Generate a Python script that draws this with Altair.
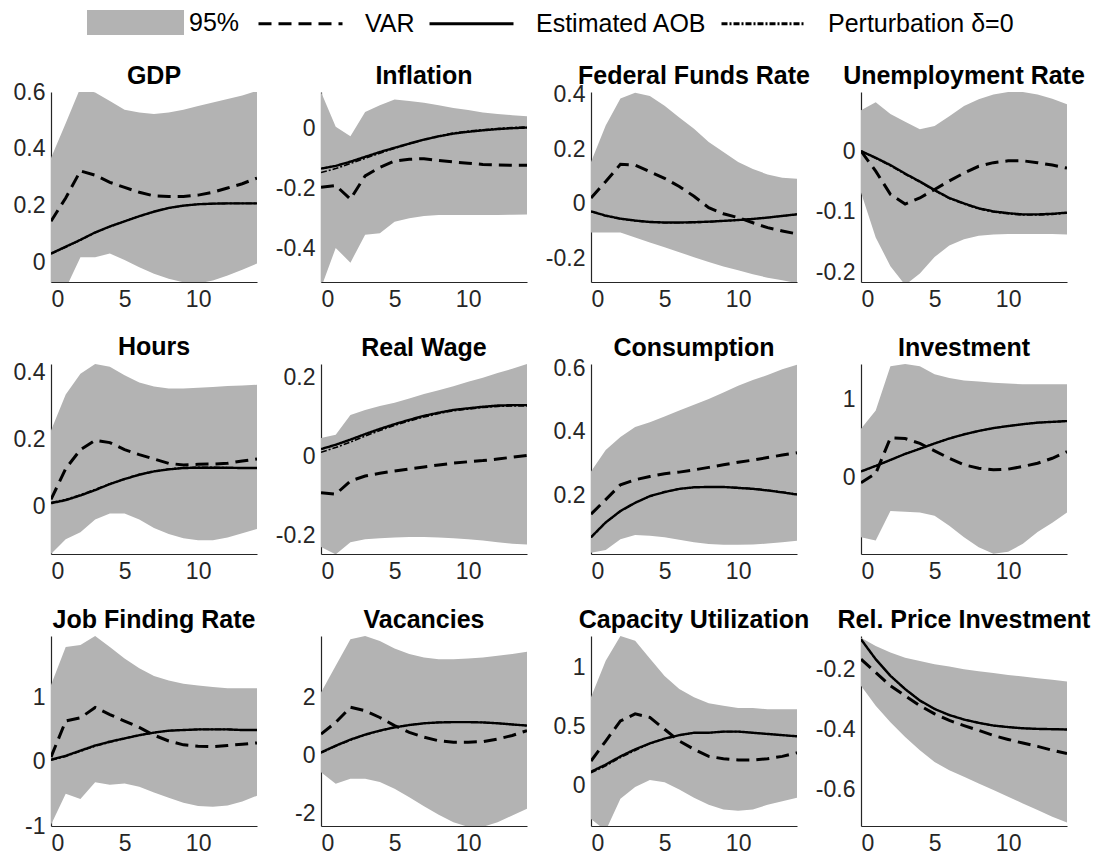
import altair as alt
import pandas as pd

X = list(range(15))
SERIES = ["VAR", "Estimated AOB", "Perturbation δ=0"]

# ---- GDP
GDP_LO = [-0.15, -0.09, 0.02, 0.02, 0.033, 0.01, -0.015, -0.038, -0.056, -0.068, -0.072, -0.062, -0.044, -0.024, -0.002]
GDP_HI = [0.368, 0.49, 0.615, 0.598, 0.568, 0.538, 0.528, 0.523, 0.528, 0.538, 0.551, 0.563, 0.575, 0.588, 0.604]
GDP_VAR = [0.146, 0.228, 0.323, 0.308, 0.283, 0.265, 0.248, 0.235, 0.233, 0.233, 0.238, 0.248, 0.263, 0.278, 0.298]
GDP_AOB = [0.033, 0.057, 0.081, 0.107, 0.128, 0.146, 0.164, 0.18, 0.193, 0.201, 0.206, 0.208, 0.209, 0.209, 0.209]
GDP_PERT = [0.031, 0.055, 0.08, 0.106, 0.127, 0.146, 0.164, 0.18, 0.193, 0.201, 0.206, 0.208, 0.209, 0.209, 0.209]

# ---- Inflation
INF_LO = [-0.53, -0.397, -0.446, -0.353, -0.348, -0.31, -0.299, -0.291, -0.288, -0.288, -0.288, -0.288, -0.288, -0.287, -0.286]
INF_HI = [0.12, 0.005, -0.027, 0.054, 0.076, 0.095, 0.09, 0.084, 0.076, 0.067, 0.06, 0.052, 0.047, 0.043, 0.04]
INF_VAR = [-0.196, -0.19, -0.235, -0.158, -0.13, -0.109, -0.103, -0.101, -0.107, -0.112, -0.116, -0.12, -0.122, -0.123, -0.123]
INF_AOB = [-0.134, -0.125, -0.111, -0.095, -0.079, -0.065, -0.051, -0.038, -0.027, -0.018, -0.012, -0.007, -0.003, 0.0, 0.002]
INF_PERT = [-0.147, -0.134, -0.117, -0.1, -0.083, -0.067, -0.052, -0.038, -0.026, -0.016, -0.01, -0.005, -0.001, 0.002, 0.004]

# ---- Federal Funds Rate
FFR_LO = [-0.105, -0.105, -0.105, -0.123, -0.141, -0.159, -0.177, -0.195, -0.213, -0.229, -0.243, -0.258, -0.27, -0.28, -0.29]
FFR_HI = [0.154, 0.287, 0.386, 0.407, 0.395, 0.36, 0.317, 0.275, 0.227, 0.19, 0.154, 0.128, 0.108, 0.096, 0.092]
FFR_VAR = [0.022, 0.082, 0.145, 0.142, 0.118, 0.094, 0.064, 0.028, -0.014, -0.036, -0.05, -0.069, -0.087, -0.099, -0.11]
FFR_AOB = [-0.027, -0.043, -0.054, -0.061, -0.066, -0.068, -0.068, -0.067, -0.065, -0.062, -0.059, -0.055, -0.05, -0.044, -0.038]
FFR_PERT = [-0.028, -0.044, -0.055, -0.062, -0.067, -0.069, -0.069, -0.068, -0.066, -0.063, -0.059, -0.055, -0.05, -0.044, -0.038]

# ---- Unemployment Rate
UNR_LO = [-0.068, -0.142, -0.189, -0.22, -0.201, -0.174, -0.155, -0.145, -0.139, -0.137, -0.136, -0.136, -0.136, -0.136, -0.137]
UNR_HI = [0.067, 0.08, 0.061, 0.048, 0.036, 0.041, 0.057, 0.074, 0.085, 0.093, 0.097, 0.097, 0.093, 0.086, 0.077]
UNR_VAR = [0.0, -0.033, -0.071, -0.087, -0.077, -0.063, -0.049, -0.036, -0.025, -0.019, -0.016, -0.016, -0.019, -0.023, -0.028]
UNR_AOB = [0.0, -0.011, -0.023, -0.037, -0.05, -0.064, -0.077, -0.086, -0.094, -0.099, -0.102, -0.104, -0.104, -0.103, -0.101]
UNR_PERT = [0.0, -0.012, -0.024, -0.038, -0.051, -0.065, -0.078, -0.087, -0.095, -0.1, -0.103, -0.105, -0.105, -0.104, -0.102]

# ---- Hours
HRS_LO = [-0.142, -0.098, -0.077, -0.039, -0.021, -0.021, -0.039, -0.064, -0.082, -0.095, -0.101, -0.101, -0.093, -0.08, -0.067]
HRS_HI = [0.227, 0.335, 0.397, 0.426, 0.418, 0.392, 0.371, 0.359, 0.353, 0.353, 0.355, 0.357, 0.36, 0.362, 0.364]
HRS_VAR = [0.021, 0.113, 0.17, 0.198, 0.191, 0.17, 0.155, 0.142, 0.129, 0.124, 0.126, 0.127, 0.129, 0.136, 0.142]
HRS_AOB = [0.01, 0.019, 0.033, 0.049, 0.067, 0.082, 0.095, 0.105, 0.111, 0.115, 0.116, 0.116, 0.116, 0.115, 0.115]
HRS_PERT = [0.012, 0.021, 0.035, 0.051, 0.068, 0.083, 0.096, 0.106, 0.112, 0.116, 0.117, 0.117, 0.116, 0.115, 0.115]

# ---- Real Wage
RW_LO = [-0.229, -0.248, -0.217, -0.21, -0.207, -0.205, -0.204, -0.204, -0.205, -0.207, -0.21, -0.213, -0.217, -0.221, -0.223]
RW_HI = [0.046, 0.054, 0.104, 0.117, 0.127, 0.135, 0.146, 0.157, 0.167, 0.177, 0.188, 0.198, 0.21, 0.221, 0.233]
RW_VAR = [-0.092, -0.096, -0.0625, -0.05, -0.043, -0.0375, -0.032, -0.027, -0.022, -0.0175, -0.014, -0.011, -0.007, -0.0025, 0.002]
RW_AOB = [0.018, 0.029, 0.042, 0.056, 0.069, 0.081, 0.092, 0.102, 0.11, 0.117, 0.121, 0.125, 0.128, 0.129, 0.129]
RW_PERT = [0.01, 0.022, 0.036, 0.051, 0.065, 0.078, 0.089, 0.099, 0.108, 0.115, 0.119, 0.123, 0.126, 0.127, 0.127]

# ---- Consumption
CON_LO = [0.018, 0.027, 0.061, 0.074, 0.072, 0.067, 0.059, 0.051, 0.046, 0.043, 0.043, 0.044, 0.047, 0.051, 0.056]
CON_HI = [0.275, 0.343, 0.384, 0.416, 0.431, 0.449, 0.468, 0.486, 0.504, 0.525, 0.546, 0.564, 0.58, 0.598, 0.613]
CON_VAR = [0.14, 0.186, 0.233, 0.249, 0.259, 0.268, 0.273, 0.28, 0.288, 0.296, 0.304, 0.311, 0.319, 0.327, 0.334]
CON_AOB = [0.067, 0.114, 0.15, 0.176, 0.197, 0.21, 0.22, 0.225, 0.226, 0.226, 0.223, 0.22, 0.215, 0.209, 0.202]
CON_PERT = [0.066, 0.113, 0.149, 0.176, 0.197, 0.21, 0.22, 0.225, 0.226, 0.226, 0.224, 0.221, 0.216, 0.21, 0.203]

# ---- Investment
INV_LO = [-0.766, -0.808, -0.43, -0.44, -0.45, -0.49, -0.62, -0.766, -0.893, -0.977, -0.95, -0.85, -0.7, -0.58, -0.45]
INV_HI = [0.623, 0.855, 1.42, 1.45, 1.42, 1.32, 1.27, 1.24, 1.225, 1.21, 1.2, 1.19, 1.19, 1.19, 1.19]
INV_VAR = [-0.07, 0.05, 0.505, 0.497, 0.434, 0.34, 0.244, 0.16, 0.118, 0.097, 0.105, 0.139, 0.181, 0.244, 0.328]
INV_AOB = [0.076, 0.147, 0.223, 0.3, 0.366, 0.434, 0.497, 0.55, 0.594, 0.63, 0.657, 0.68, 0.7, 0.71, 0.72]
INV_PERT = [0.074, 0.145, 0.222, 0.299, 0.366, 0.434, 0.497, 0.55, 0.594, 0.63, 0.657, 0.68, 0.7, 0.71, 0.72]

# ---- Job Finding Rate
JFR_LO = [-0.98, -0.5, -0.58, -0.32, -0.36, -0.34, -0.39, -0.48, -0.56, -0.64, -0.69, -0.7, -0.68, -0.62, -0.53]
JFR_HI = [1.19, 1.78, 1.81, 1.95, 1.78, 1.6, 1.45, 1.33, 1.26, 1.21, 1.18, 1.16, 1.14, 1.14, 1.14]
JFR_VAR = [0.07, 0.63, 0.68, 0.84, 0.73, 0.63, 0.53, 0.41, 0.32, 0.26, 0.24, 0.23, 0.25, 0.27, 0.29]
JFR_AOB = [0.03, 0.09, 0.17, 0.25, 0.31, 0.36, 0.41, 0.45, 0.48, 0.49, 0.5, 0.5, 0.5, 0.49, 0.49]
JFR_PERT = [0.02, 0.08, 0.16, 0.24, 0.3, 0.36, 0.41, 0.45, 0.48, 0.49, 0.5, 0.5, 0.5, 0.49, 0.49]

# ---- Vacancies
VAC_LO = [-0.57, -0.97, -0.8, -0.8, -0.91, -1.14, -1.43, -1.74, -2.03, -2.29, -2.45, -2.45, -2.29, -2.06, -1.83]
VAC_HI = [2.17, 3.09, 4.0, 4.11, 3.94, 3.68, 3.49, 3.37, 3.31, 3.31, 3.34, 3.37, 3.43, 3.49, 3.57]
VAC_VAR = [0.74, 1.14, 1.66, 1.54, 1.31, 1.03, 0.8, 0.63, 0.51, 0.46, 0.46, 0.48, 0.57, 0.69, 0.86]
VAC_AOB = [0.11, 0.34, 0.55, 0.72, 0.86, 0.97, 1.05, 1.11, 1.14, 1.15, 1.15, 1.14, 1.11, 1.07, 1.03]
VAC_PERT = [0.09, 0.32, 0.53, 0.71, 0.85, 0.97, 1.05, 1.11, 1.14, 1.15, 1.15, 1.14, 1.11, 1.07, 1.03]

# ---- Capacity Utilization
CU_LO = [-0.28, -0.38, -0.11, -0.01, 0.05, 0.03, -0.03, -0.1, -0.16, -0.2, -0.21, -0.2, -0.16, -0.13, -0.1]
CU_HI = [0.75, 1.06, 1.27, 1.23, 1.08, 0.93, 0.82, 0.75, 0.7, 0.68, 0.66, 0.66, 0.65, 0.65, 0.65]
CU_VAR = [0.21, 0.38, 0.55, 0.61, 0.58, 0.48, 0.38, 0.31, 0.25, 0.23, 0.22, 0.22, 0.23, 0.25, 0.28]
CU_AOB = [0.12, 0.18, 0.25, 0.31, 0.36, 0.4, 0.43, 0.45, 0.45, 0.46, 0.46, 0.45, 0.44, 0.43, 0.42]
CU_PERT = [0.11, 0.17, 0.24, 0.3, 0.36, 0.4, 0.43, 0.45, 0.45, 0.46, 0.46, 0.45, 0.44, 0.43, 0.42]

# ---- Rel. Price Investment
RPI_LO = [-0.255, -0.321, -0.376, -0.425, -0.469, -0.508, -0.535, -0.557, -0.579, -0.601, -0.623, -0.645, -0.667, -0.689, -0.708]
RPI_HI = [-0.096, -0.123, -0.145, -0.162, -0.173, -0.184, -0.191, -0.2, -0.207, -0.213, -0.219, -0.224, -0.23, -0.235, -0.241]
RPI_VAR = [-0.167, -0.211, -0.255, -0.288, -0.321, -0.348, -0.37, -0.387, -0.403, -0.42, -0.433, -0.445, -0.456, -0.469, -0.48]
RPI_AOB = [-0.101, -0.167, -0.222, -0.266, -0.304, -0.332, -0.352, -0.367, -0.378, -0.387, -0.392, -0.396, -0.398, -0.399, -0.4]
RPI_PERT = [-0.101, -0.167, -0.222, -0.266, -0.304, -0.332, -0.352, -0.367, -0.378, -0.387, -0.392, -0.396, -0.398, -0.399, -0.4]

PANELS = [
    ("GDP", GDP_LO, GDP_HI, GDP_VAR, GDP_AOB, GDP_PERT, [-0.067, 0.6], [0, 0.2, 0.4, 0.6]),
    ("Inflation", INF_LO, INF_HI, INF_VAR, INF_AOB, INF_PERT, [-0.51, 0.12], [-0.4, -0.2, 0]),
    ("Federal Funds Rate", FFR_LO, FFR_HI, FFR_VAR, FFR_AOB, FFR_PERT, [-0.286, 0.41], [-0.2, 0, 0.2, 0.4]),
    ("Unemployment Rate", UNR_LO, UNR_HI, UNR_VAR, UNR_AOB, UNR_PERT, [-0.215, 0.097], [-0.2, -0.1, 0]),
    ("Hours", HRS_LO, HRS_HI, HRS_VAR, HRS_AOB, HRS_PERT, [-0.142, 0.426], [0, 0.2, 0.4]),
    ("Real Wage", RW_LO, RW_HI, RW_VAR, RW_AOB, RW_PERT, [-0.247, 0.233], [-0.2, 0, 0.2]),
    ("Consumption", CON_LO, CON_HI, CON_VAR, CON_AOB, CON_PERT, [0.014, 0.615], [0.2, 0.4, 0.6]),
    ("Investment", INV_LO, INV_HI, INV_VAR, INV_AOB, INV_PERT, [-0.98, 1.45], [-1, 0, 1]),
    ("Job Finding Rate", JFR_LO, JFR_HI, JFR_VAR, JFR_AOB, JFR_PERT, [-1.0, 1.95], [-1, 0, 1]),
    ("Vacancies", VAC_LO, VAC_HI, VAC_VAR, VAC_AOB, VAC_PERT, [-2.42, 4.11], [-2, 0, 2]),
    ("Capacity Utilization", CU_LO, CU_HI, CU_VAR, CU_AOB, CU_PERT, [-0.34, 1.27], [0, 0.5, 1]),
    ("Rel. Price Investment", RPI_LO, RPI_HI, RPI_VAR, RPI_AOB, RPI_PERT, [-0.72, -0.09], [-0.6, -0.4, -0.2]),
]

FONT = "Liberation Sans"
BAND_COLOR = "#b3b3b3"
DASHES = [[13, 7], [1, 0], [6, 2, 2, 2]]
WIDTHS = [3.0, 2.4, 1.6]
PW, PH = 206, 190

fill_legend = alt.Legend(
    title=None, orient="none", legendX=72, legendY=-82, direction="horizontal",
    symbolType="M-4,-1.03H4V1.03H-4Z", symbolSize=588, symbolStrokeWidth=0,
    symbolOpacity=1, labelFontSize=25, labelFont=FONT, labelColor="black", labelOffset=41,
    labelLimit=300,
)
dash_legend = alt.Legend(
    title=None, orient="none", legendX=234, legendY=-84, direction="horizontal",
    symbolType="M-3,0H3", symbolSize=784, symbolStrokeWidth=2.8, symbolStrokeColor="black",
    symbolFillColor="transparent",
    labelFontSize=25, labelFont=FONT, labelColor="black", labelOffset=49, columnPadding=8,
    labelLimit=300,
)

def panel(title, lo, hi, var, aob, pert, dom, ticks):
    xenc = alt.X("x:Q", scale=alt.Scale(domain=[0, 14], nice=False),
                 axis=alt.Axis(values=[0, 5, 10], title=None))
    yscale = alt.Scale(domain=dom, nice=False, zero=False)
    yaxis = alt.Axis(values=ticks, title=None, labelExpr="datum.value + ''")
    band = pd.DataFrame({"x": X, "lo": lo, "hi": hi, "band": ["95%"] * len(X)})
    layers = [
        alt.Chart(band).mark_area(clip=True, opacity=1, interpolate="linear").encode(
            x=xenc,
            y=alt.Y("lo:Q", scale=yscale, axis=yaxis),
            y2="hi:Q",
            fill=alt.Fill("band:N", scale=alt.Scale(domain=["95%"], range=[BAND_COLOR]), legend=fill_legend),
        )
    ]
    for name, vals, w in zip(SERIES, [var, aob, pert], WIDTHS):
        df = pd.DataFrame({"x": X, "v": vals, "series": [name] * len(X)})
        layers.append(
            alt.Chart(df).mark_line(clip=True, color="black", strokeWidth=w).encode(
                x=xenc,
                y=alt.Y("v:Q", scale=yscale, axis=yaxis),
                strokeDash=alt.StrokeDash("series:N", scale=alt.Scale(domain=SERIES, range=DASHES),
                                          legend=dash_legend),
            )
        )
    # keep every title at the same height even when the top tick label pokes above the plot
    top_gap = (dom[1] - max(ticks)) / (dom[1] - dom[0]) * PH
    push = max(0.0, 10.5 - top_gap)
    return alt.layer(*layers).properties(
        width=PW, height=PH,
        title=alt.TitleParams(title, fontSize=25, font=FONT, fontWeight="bold", color="black",
                              offset=3, anchor="middle", dy=round(push, 1)),
    )

charts = [panel(*p) for p in PANELS]

chart = alt.concat(
    *charts, columns=4, spacing={"row": 82, "column": 64}, bounds="flush",
    padding={"left": 5, "top": 0, "right": 0, "bottom": 2},
).resolve_scale(
    x="independent", y="independent", fill="shared", strokeDash="shared"
).configure_view(
    stroke=None
).configure_axis(
    labelFont=FONT, labelFontSize=23, labelColor="#262626", domainColor="#262626",
    domainWidth=1.2, ticks=False, labelPadding=6, grid=False, zindex=0,
)

chart.save("out.html", embed_options={"renderer": "svg", "actions": False})
